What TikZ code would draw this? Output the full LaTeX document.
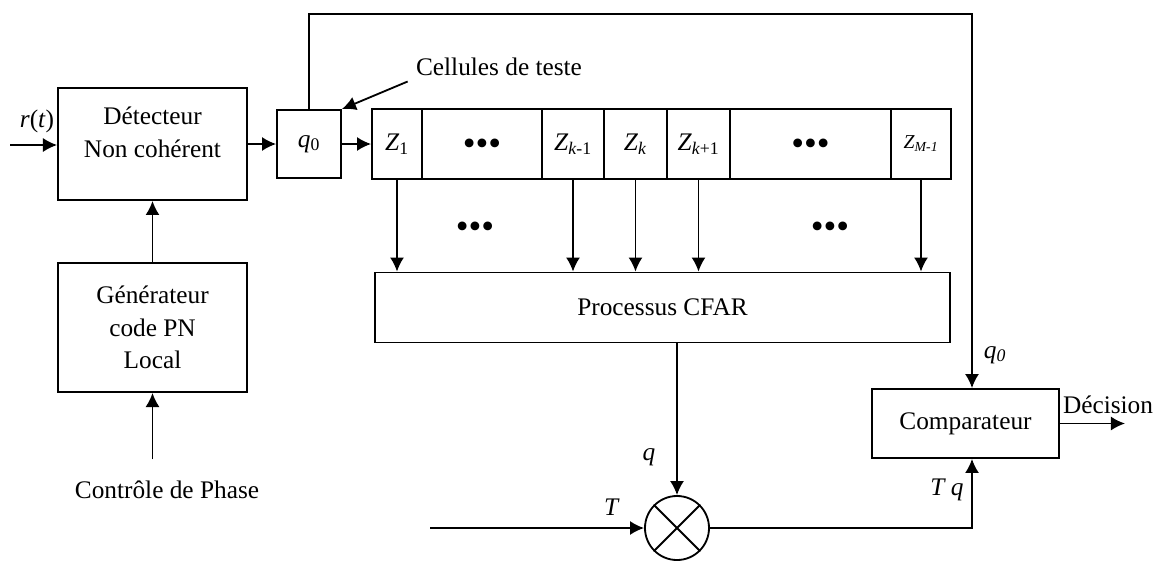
\documentclass[tikz,border=0pt]{standalone}
\usepackage{fontspec}
\setmainfont{Liberation Serif}
\usetikzlibrary{arrows.meta}
\newcommand{\bigdots}{{\fontsize{26}{26}\selectfont\textbullet\textbullet\textbullet}}
\begin{document}
\begin{tikzpicture}[x=0.025cm, y=-0.025cm, line width=1.3pt,
  every node/.style={font=\fontsize{18}{23}\selectfont},
  blk/.style={draw, line width=1.3pt, align=center, inner sep=2pt},
  cell/.style={draw, line width=1.3pt, minimum height=1.75cm, inner sep=0pt},
  wire/.style={-{Latex[length=10pt, width=10pt]}, line width=1.3pt},
  plain/.style={line width=1.3pt}]
  \useasboundingbox (0,0) rectangle (1160,561);
  % left chain
  \node[blk, minimum width=4.725cm, minimum height=2.8cm] (det) at (152.5,144) {D\'etecteur\\Non coh\'erent\\[-6pt]\mbox{}};
  \node[blk, minimum width=4.725cm, minimum height=3.225cm] (gen) at (152.5,327.5) {G\'en\'erateur\\code PN\\Local};
  \node (ctrl) at (167,490) {Contr\^ole de Phase};
  \node (rt) at (37,121) {\textit{r}(\textit{t})};
  \coordinate (in) at (10,145);
  \node[blk, minimum width=1.6cm, minimum height=1.7cm] (q0) at (309,144) {\textit{q}\textsubscript{0}};
  % registre
  \node[cell, minimum width=1.25cm] (z1) at (397,144) {\textit{Z}\textsubscript{1}};
  \node[cell, minimum width=3cm] (d1) at (482,144) {\raisebox{-8pt}[0pt][0pt]{\bigdots}};
  \node[cell, minimum width=1.55cm] (zkm) at (573,144) {\textit{Z}\textsubscript{\textit{k}-1}};
  \node[cell, minimum width=1.575cm] (zk) at (635.5,144) {\textit{Z}\textsubscript{\textit{k}}};
  \node[cell, minimum width=1.575cm] (zkp) at (698.5,144) {\textit{Z}\textsubscript{\textit{k}+1}};
  \node[cell, minimum width=4.025cm] (d2) at (810.5,144) {\raisebox{-8pt}[0pt][0pt]{\bigdots}};
  \node[cell, minimum width=1.5cm, font=\fontsize{14}{16}\selectfont] (zm) at (921,144) {\textit{Z}\textsubscript{\textit{M-1}}};
  \node (cell) at (499,67) {Cellules de teste};
  \node (dots1) at (475,230) {\bigdots};
  \node (dots2) at (830,230) {\bigdots};
  \node[blk, minimum width=14.375cm, minimum height=1.75cm] (cfar) at (662.5,307.5) {Processus CFAR};
  % multiplicateur et comparateur
  \node[draw, circle, line width=1.3pt, minimum size=1.6cm, inner sep=0pt] (mult) at (677,528) {};
  \draw[plain] (mult.north west) -- (mult.south east) (mult.north east) -- (mult.south west);
  \node (ql) at (649,457) {\textit{q}};
  \node (tl) at (612,507) {\textit{T}};
  \coordinate (tin) at (430,528);
  \node[blk, minimum width=4.675cm, minimum height=1.725cm] (comp) at (965.5,423.5) {Comparateur};
  \node (q0l) at (995,355) {\textit{q\textsubscript{0}}};
  \node (tql) at (947,490) {\textit{T q}};
  \node (dec) at (1108,405) {D\'ecision};
  \coordinate (out) at (1125,423.5);
  \coordinate (fb) at (972,14);
  % liaisons
  \draw[wire] (in) -- (in -| det.west);
  \draw[wire] (gen.north) -- (det.south);
  \draw[wire] ([yshift=0.4cm]ctrl.north -| gen.south) -- (gen.south);
  \draw[wire] (det.east) -- (q0.west);
  \draw[wire] (q0.east) -- (z1.west);
  \draw[wire] ([xshift=-2pt]cell.south west) -- (q0.north east);
  \draw[wire] (q0.north) |- (fb) -- (fb |- comp.north);
  \foreach \c in {z1,zkm,zk,zkp,zm}
    \draw[wire] (\c.south) -- (\c.south |- cfar.north);
  \draw[wire] (cfar.south -| mult.north) -- (mult.north);
  \draw[wire] (tin) -- (mult.west);
  \draw[wire] (mult.east) -| (fb |- comp.south);
  \draw[wire] (comp.east) -- (out);
\end{tikzpicture}
\end{document}
